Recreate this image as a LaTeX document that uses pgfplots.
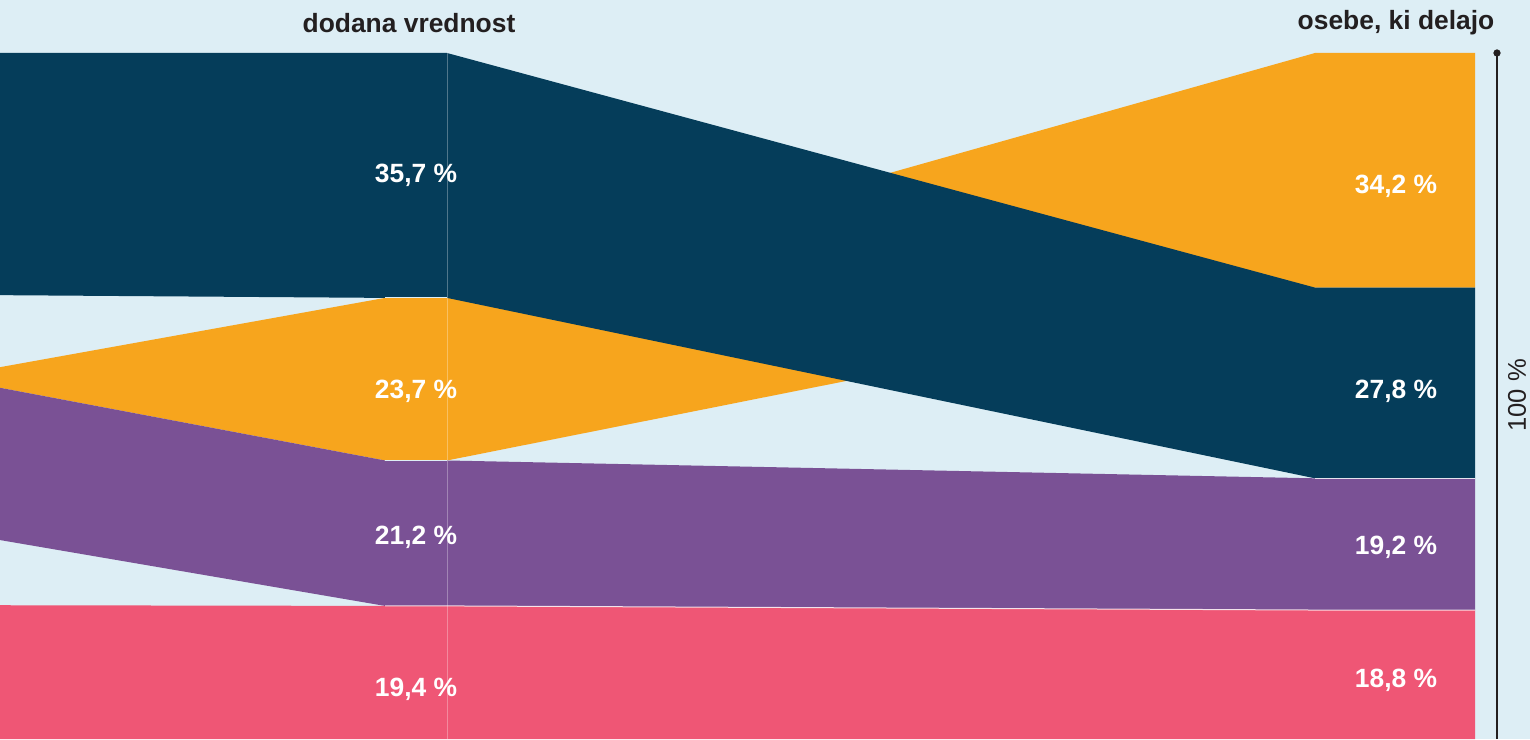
\documentclass[border=0pt]{standalone}
\usepackage{pgfplots}
\pgfplotsset{compat=1.18}
\usepackage{fontspec}
\setmainfont{Liberation Sans}
\definecolor{bgcol}{HTML}{DDEEF5}
\definecolor{darkb}{HTML}{053D5A}
\definecolor{orng}{HTML}{F7A51D}
\definecolor{purp}{HTML}{7A5195}
\definecolor{pink}{HTML}{EF5675}
\definecolor{txt}{HTML}{231F20}
\tikzset{lab/.style={text=white, font=\fontsize{13.2}{15}\selectfont\bfseries, anchor=center}}
\begin{document}
\begin{tikzpicture}
\begin{axis}[
  scale only axis, width=765pt, height=369.5pt,
  xmin=0, xmax=1530, ymin=0, ymax=107.726,
  axis line style={draw=none}, ticks=none,
  axis background/.style={fill=bgcol},
  clip=true,
]
% orange band
\addplot[fill=orng, draw=none] coordinates {
 (0,54.2) (385,64.3) (447,64.3) (1315,100) (1475,100)
 (1475,65.8) (1315,65.8) (447,40.6) (385,40.6) (0,51.2)} -- cycle;
% dark band
\addplot[fill=darkb, draw=none] coordinates {
 (0,100) (447,100) (1315,65.8) (1475,65.8)
 (1475,38.0) (1315,38.0) (447,64.3) (385,64.3) (0,64.7)} -- cycle;
% purple band
\addplot[fill=purp, draw=none] coordinates {
 (0,51.2) (385,40.6) (447,40.6) (1315,38.0) (1475,38.0)
 (1475,18.8) (1315,18.8) (447,19.4) (385,19.4) (0,29.0)} -- cycle;
% pink band
\addplot[fill=pink, draw=none] coordinates {
 (0,19.5) (385,19.4) (447,19.4) (1315,18.8) (1475,18.8)
 (1475,0) (0,0)} -- cycle;
% thin separators
\addplot[white, line width=0.5pt, opacity=0.8] coordinates {(385,19.4) (447,19.4) (1315,18.8) (1475,18.8)};
\addplot[white, line width=0.5pt, opacity=0.8] coordinates {(1315,38.0) (1475,38.0)};
\addplot[bgcol, line width=0.5pt] coordinates {(385,40.6) (447,40.6)};
\addplot[bgcol, line width=0.5pt] coordinates {(385,64.3) (447,64.3)};
\addplot[white, line width=0.4pt, opacity=0.3] coordinates {(447,0) (447,100)};
% scale line
\addplot[txt, line width=0.75pt] coordinates {(1497,0) (1497,100)};
\addplot[txt, only marks, mark=*, mark size=1.6pt] coordinates {(1497,100)};
% labels
\node[lab] at (axis cs:416,82.2) {35,7 \%};
\node[lab] at (axis cs:416,50.7) {23,7 \%};
\node[lab] at (axis cs:416,29.4) {21,2 \%};
\node[lab] at (axis cs:416,7.3) {19,4 \%};
\node[lab] at (axis cs:1396,80.6) {34,2 \%};
\node[lab] at (axis cs:1396,50.7) {27,8 \%};
\node[lab] at (axis cs:1396,28.0) {19,2 \%};
\node[lab] at (axis cs:1396,8.6) {18,8 \%};
\node[text=txt, font=\fontsize{13.2}{15}\selectfont\bfseries, anchor=center] at (axis cs:409,104.35) {dodana vrednost};
\node[text=txt, font=\fontsize{13.2}{15}\selectfont\bfseries, anchor=center] at (axis cs:1396,104.35) {osebe, ki delajo};
\node[text=txt, font=\fontsize{12.8}{15}\selectfont, rotate=90, anchor=center] at (axis cs:1517,50.1) {100 \%};
\end{axis}
\end{tikzpicture}
\end{document}
